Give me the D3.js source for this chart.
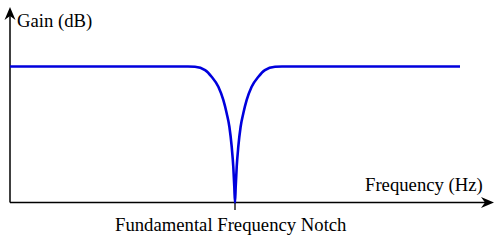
<!DOCTYPE html>
<html><head><meta charset="utf-8">
<script src="https://cdn.jsdelivr.net/npm/d3@7"></script>
<style>html,body{margin:0;padding:0;background:#fff;}svg{display:block;}
text{font-family:"Liberation Serif","Times New Roman",Times,"DejaVu Serif",serif;font-size:18.7px;fill:#000;}</style>
</head><body>
<script>
// Normalized frequency (notch at 1) and linear gain magnitude (1 = passband level)
const freq = [0, 0.791, 0.822, 0.867, 0.896, 0.926, 0.948, 0.963, 0.975, 0.9853, 0.9924, 0.9969, 1.0,
              1.0031, 1.0076, 1.0147, 1.025, 1.037, 1.052, 1.074, 1.104, 1.133, 1.178, 1.209, 2.0];
const gain = [1, 1, 0.998, 0.974, 0.925, 0.851, 0.754, 0.656, 0.557, 0.41, 0.263, 0.116, 0,
              0.116, 0.263, 0.41, 0.557, 0.656, 0.754, 0.851, 0.925, 0.974, 0.998, 1, 1];
const notchTick = [1.0];
const labels = {y: "Gain (dB)", x: "Frequency (Hz)", notch: "Fundamental Frequency Notch"};

const W = 500, H = 241;
const svg = d3.select("body").append("svg").attr("width", W).attr("height", H);
const x = d3.scaleLinear().domain([0, 2]).range([10, 460]);
const y = d3.scaleLinear().domain([0, 1]).range([202.5, 66.5]);

// axes
svg.append("line").attr("x1", 10).attr("y1", 202.5).attr("x2", 488).attr("y2", 202.5)
  .attr("stroke", "#000").attr("stroke-width", 1.5);
svg.append("line").attr("x1", 10).attr("y1", 202.5).attr("x2", 10).attr("y2", 13)
  .attr("stroke", "#000").attr("stroke-width", 1.5);
const arrow = "M0,0 L-13,-5.5 L-9,0 L-13,5.5 Z";
svg.append("path").attr("d", arrow).attr("transform", "translate(494,202.5)").attr("fill", "#000");
svg.append("path").attr("d", arrow).attr("transform", "translate(10,7) rotate(-90)").attr("fill", "#000");

// notch tick
svg.selectAll("line.tick").data(notchTick).enter().append("line")
  .attr("x1", d => x(d)).attr("x2", d => x(d)).attr("y1", 202.5).attr("y2", 210)
  .attr("stroke", "#000").attr("stroke-width", 1.3);

// curve
const pts = freq.map((f, i) => [f, gain[i]]);
svg.append("path").datum(pts)
  .attr("d", d3.line().x(d => x(d[0])).y(d => y(d[1])).curve(d3.curveMonotoneX))
  .attr("fill", "none").attr("stroke", "#0000dd").attr("stroke-width", 2.6);

// labels
svg.append("text").attr("x", 17).attr("y", 26.5).text(labels.y);
svg.append("text").attr("x", 365).attr("y", 191).text(labels.x);
svg.append("text").attr("x", 115).attr("y", 230.5).text(labels.notch);
</script>
</body></html>
